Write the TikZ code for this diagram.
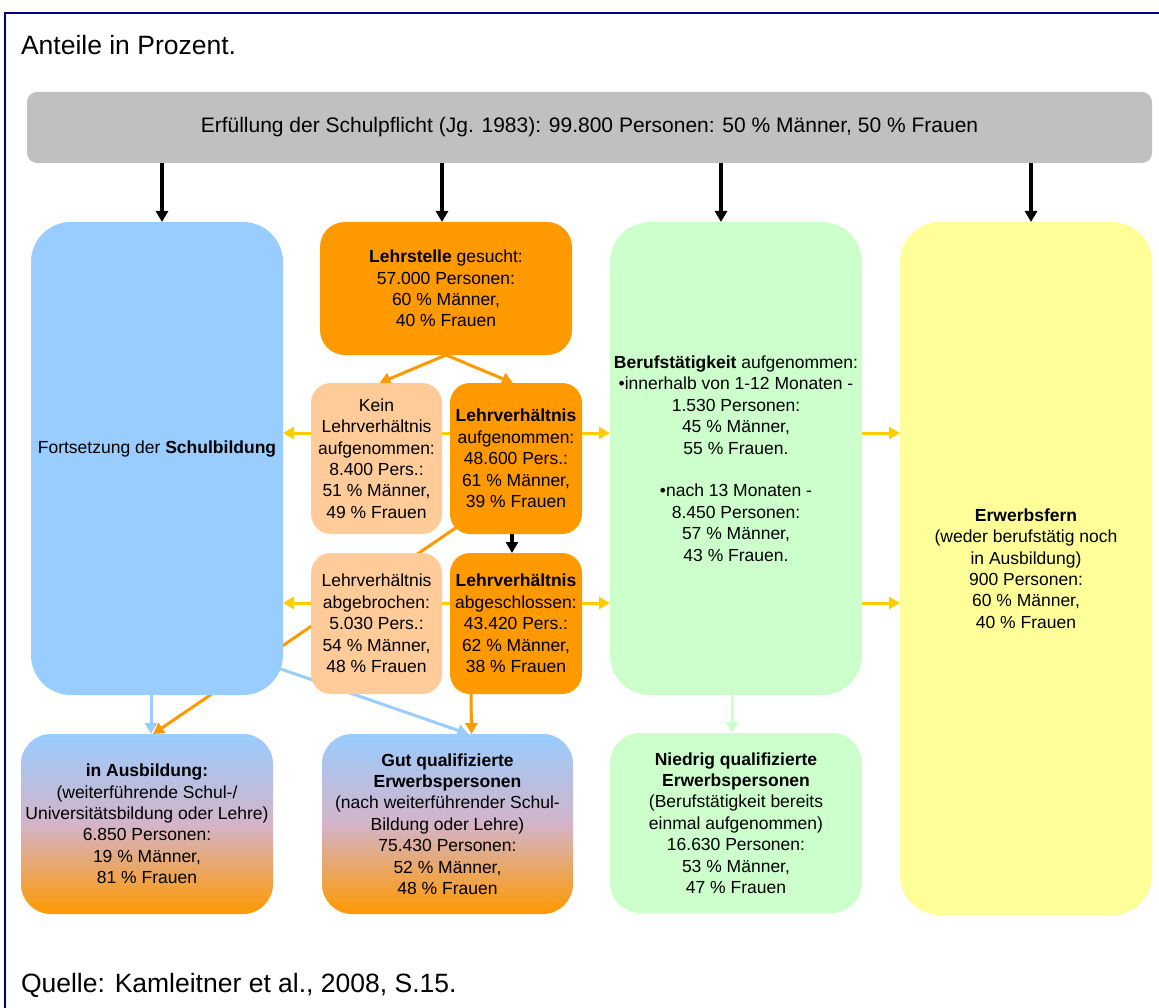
\documentclass[tikz,border=0pt]{standalone}
\usepackage{fontspec}
\setmainfont{Liberation Sans}
\definecolor{schulblau}{RGB}{153,204,255}
\definecolor{lehrorange}{RGB}{255,153,0}
\definecolor{hellorange}{RGB}{255,204,153}
\definecolor{berufgruen}{RGB}{204,255,204}
\definecolor{ferngelb}{RGB}{255,255,153}
\definecolor{pfeilgelb}{RGB}{255,204,0}
\definecolor{kopfgrau}{RGB}{192,192,192}
\definecolor{rahmenblau}{RGB}{0,0,128}
\definecolor{verlaufmitte}{RGB}{212,180,200}
\usetikzlibrary{positioning, arrows.meta, calc, backgrounds}
\tikzset{
>={Triangle[length=11pt, width=12pt]}, % filled heads as in the original
every node/.style={inner sep=0pt, outer sep=0pt, align=center}, % boxes are exactly as big as given
kopf/.style={minimum width=1125pt, minimum height=71pt, fill=kopfgrau, rounded corners=10pt, font=\fontsize{21}{25}\selectfont}, % grey bar on top
kasten/.style={minimum width=252pt, font=\fontsize{17.5}{21.4}\selectfont}, % the big columns
klein/.style={kasten, minimum width=131pt, rounded corners=20pt}, % the four apprenticeship boxes
unten/.style={kasten, minimum height=180pt, rounded corners=30pt}, % result boxes at the bottom
verlauf/.style={top color=schulblau, bottom color=lehrorange, middle color=verlaufmitte}, % blue to orange
gross/.style={font=\fontsize{26.5}{30}\selectfont}, % title and source line
schwarzpfeil/.style={->, line width=3.3pt},
gelbpfeil/.style={->, line width=3pt, pfeilgelb},
orangepfeil/.style={->, line width=3pt, lehrorange},
blaupfeil/.style={->, line width=3pt, schulblau},
gruenpfeil/.style={->, line width=3pt, berufgruen},
}

\begin{document}
\begin{tikzpicture}[x=1pt, y=-1pt]
      \useasboundingbox (0,0) rectangle (1159,1008);
      \draw[rahmenblau, line width=2.3pt] (5,1040) |- (1190,13);

      \node[gross, anchor=base west] (titel) at (21,55) {Anteile in Prozent.};
      \node[kopf] (pflicht) at (589.5,127.5) {Erfüllung der Schulpflicht (Jg. 1983): 99.800 Personen: 50 \% Männer, 50 \% Frauen};

      \node[kasten, fill=schulblau, rounded corners=40pt, minimum height=473pt, text depth=23pt,
        below right=59pt and 4pt of pflicht.south west] (fort) {Fortsetzung der \textbf{Schulbildung}};
      \node[kasten, fill=lehrorange, rounded corners=25pt, minimum height=133pt,
        right=37pt of fort.north east, anchor=north west] (lehr) {\textbf{Lehrstelle} gesucht:\\57.000 Personen:\\60 \% Männer,\\40 \% Frauen};
      \node[kasten, fill=berufgruen, rounded corners=40pt, minimum height=473pt,
        right=38pt of lehr.north east, anchor=north west] (beruf) {\textbf{Berufstätigkeit} aufgenommen:\\•innerhalb von 1-12 Monaten -\\1.530 Personen:\\45 \% Männer,\\55 \% Frauen.\\[21.4pt]•nach 13 Monaten -\\8.450 Personen:\\57 \% Männer,\\43 \% Frauen.};
      \node[kasten, fill=ferngelb, rounded corners=40pt, minimum height=693pt,
        right=38pt of beruf.north east, anchor=north west] (fern) {\textbf{Erwerbsfern}\\(weder berufstätig noch\\in Ausbildung)\\900 Personen:\\60 \% Männer,\\40 \% Frauen};

      \node[klein, fill=hellorange, minimum height=151pt,
        below=28pt of lehr.south west, anchor=north west, xshift=-9pt] (kein) {Kein\\Lehrverhältnis\\aufgenommen:\\8.400 Pers.:\\51 \% Männer,\\49 \% Frauen};
      \node[klein, fill=lehrorange, minimum width=132pt, minimum height=151pt,
        right=8pt of kein.north east, anchor=north west] (aufg) {\textbf{Lehrverhältnis}\\aufgenommen:\\48.600 Pers.:\\61 \% Männer,\\39 \% Frauen};
      \node[klein, fill=hellorange, minimum height=141pt,
        below=19pt of kein.south west, anchor=north west] (abbr) {Lehrverhältnis\\abgebrochen:\\5.030 Pers.:\\54 \% Männer,\\48 \% Frauen};
      \node[klein, fill=lehrorange, minimum width=132pt, minimum height=141pt,
        right=8pt of abbr.north east, anchor=north west] (abgs) {\textbf{Lehrverhältnis}\\abgeschlossen:\\43.420 Pers.:\\62 \% Männer,\\38 \% Frauen};

      \node[unten, verlauf, below=39pt of fort.south west, anchor=north west, xshift=-10pt] (ausb) {\textbf{in Ausbildung:}\\(weiterführende Schul-/\\Universitätsbildung oder Lehre)\\6.850 Personen:\\19 \% Männer,\\81 \% Frauen};
      \node[unten, verlauf, minimum width=251pt, right=49pt of ausb.north east, anchor=north west] (gut) {\textbf{Gut qualifizierte}\\\textbf{Erwerbspersonen}\\(nach weiterführender Schul-\\Bildung oder Lehre)\\75.430 Personen:\\52 \% Männer,\\48 \% Frauen};
      \node[unten, fill=berufgruen, below=38pt of beruf] (nied) {\textbf{Niedrig qualifizierte}\\\textbf{Erwerbspersonen}\\(Berufstätigkeit bereits\\einmal aufgenommen)\\16.630 Personen:\\53 \% Männer,\\47 \% Frauen};

      \node[gross, anchor=base west] (quelle) at (21,992) {Quelle: Kamleitner et al., 2008, S.15.};

      \begin{scope}[on background layer]
      \coordinate (zeile1) at (0,433);
      \coordinate (zeile2) at (0,603);
      \draw[schwarzpfeil] ([xshift=5pt]fort.north |- pflicht.south) -- ([xshift=5pt]fort.north);
      \draw[schwarzpfeil] ([xshift=-4pt]lehr.north |- pflicht.south) -- ([xshift=-4pt]lehr.north);
      \draw[schwarzpfeil] ([xshift=-15pt]beruf.north |- pflicht.south) -- ([xshift=-15pt]beruf.north);
      \draw[schwarzpfeil] ([xshift=5pt]fern.north |- pflicht.south) -- ([xshift=5pt]fern.north);
      \draw[schwarzpfeil] ([xshift=-4pt]aufg.south) -- ([xshift=-4pt]abgs.north);
      \draw[orangepfeil] (lehr.south) -- ([xshift=3pt]kein.north);
      \draw[orangepfeil] (lehr.south) -- ([xshift=-3pt]aufg.north);
      \draw[orangepfeil] ($(aufg.south west)+(7pt,7pt)$) -- ([xshift=6pt]ausb.north);
      \draw[orangepfeil] ([xshift=-45pt]abgs.south) -- ([xshift=24pt]gut.north);
      \draw[blaupfeil] ([xshift=-6pt]fort.south) -- ([xshift=4pt]ausb.north);
      \draw[blaupfeil] ($(fort.south east)+(-8pt,28pt)$) -- ([xshift=21pt]gut.north);
      \draw[gruenpfeil] ([xshift=-4pt]beruf.south) -- ([xshift=-4pt]nied.north);
      % yellow arrows, two rows
      \draw[gelbpfeil] (aufg.center |- zeile1) -- (fort.east |- zeile1);
      \draw[gelbpfeil] (aufg.east |- zeile1) -- (beruf.west |- zeile1);
      \draw[gelbpfeil] (beruf.east |- zeile1) -- (fern.west |- zeile1);
      \draw[gelbpfeil] (abgs.center |- zeile2) -- (fort.east |- zeile2);
      \draw[gelbpfeil] (abgs.east |- zeile2) -- (beruf.west |- zeile2);
      \draw[gelbpfeil] (beruf.east |- zeile2) -- (fern.west |- zeile2);
      \end{scope}
    \end{tikzpicture}
\end{document}
